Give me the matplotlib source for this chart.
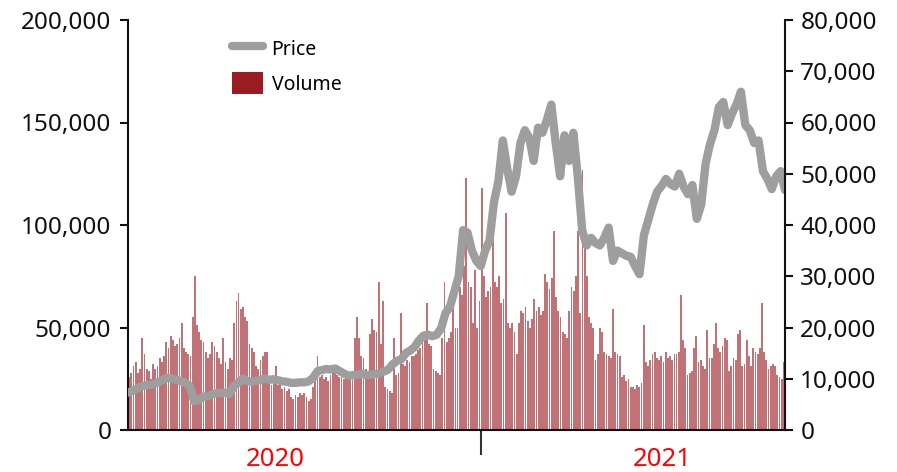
import numpy as np
import matplotlib
matplotlib.use("Agg")
from matplotlib import pyplot as plt
from matplotlib.ticker import FuncFormatter
from matplotlib.lines import Line2D
from matplotlib.patches import Patch

plt.rcParams['font.family'] = ['Noto Sans', 'DejaVu Sans']

# volume (thousands), ~2.4 days per bar, Jan 2020 -> Dec 2021
volume = [
    26, 28, 31, 33, 28, 30, 45, 37, 30, 29,
    25, 32, 30, 31, 35, 33, 36, 43, 40, 46,
    44, 41, 42, 45, 52, 40, 38, 37, 36, 55,
    75, 51, 48, 44, 43, 38, 35, 37, 43, 41,
    38, 35, 32, 45, 33, 30, 35, 34, 52, 63,
    67, 59, 60, 55, 53, 42, 40, 38, 31, 30,
    34, 36, 38, 38, 24, 22, 23, 31, 22, 24,
    20, 21, 19, 20, 16, 15, 17, 16, 18, 17,
    18, 16, 14, 15, 21, 28, 36, 26, 27, 25,
    26, 24, 27, 28, 29, 27, 26, 28, 25, 27,
    26, 25, 28, 45, 55, 45, 36, 35, 30, 28,
    47, 54, 49, 48, 72, 42, 63, 21, 20, 19,
    18, 45, 27, 28, 57, 32, 31, 34, 33, 36,
    36, 37, 39, 40, 43, 44, 62, 42, 41, 30,
    29, 28, 27, 45, 72, 43, 45, 48, 64, 50,
    50, 70, 66, 80, 123, 72, 70, 52, 78, 50,
    63, 118, 75, 65, 68, 70, 93, 72, 70, 75,
    62, 64, 106, 52, 50, 52, 48, 37, 52, 58,
    57, 60, 53, 50, 54, 64, 58, 60, 56, 58,
    76, 72, 69, 74, 97, 65, 58, 55, 48, 47,
    45, 58, 70, 68, 75, 97, 57, 127, 94, 75,
    55, 52, 50, 34, 37, 50, 48, 38, 37, 36,
    35, 59, 38, 37, 36, 26, 27, 24, 25, 21,
    21, 20, 22, 21, 23, 51, 33, 31, 34, 37,
    38, 35, 34, 36, 33, 38, 35, 36, 34, 37,
    37, 38, 66, 44, 40, 27, 28, 29, 40, 46,
    33, 34, 31, 30, 49, 35, 35, 42, 52, 40,
    38, 41, 45, 44, 29, 31, 35, 34, 47, 49,
    31, 32, 44, 36, 31, 40, 38, 37, 40, 62,
    38, 34, 30, 31, 32, 31, 27, 26, 25, 33,
]

# price (thousands), ~4.9 days per point
price = [
    7.3, 7.6, 8.1, 8.5, 8.7, 8.8, 9.0, 9.4, 9.8, 10.2,
    10.0, 9.8, 9.5, 9.2, 8.6, 5.6, 5.8, 6.5, 6.6, 6.9,
    7.2, 7.2, 7.3, 7.0, 8.6, 9.2, 10.0, 9.6, 9.4, 9.6,
    9.7, 10.1, 9.8, 9.9, 9.7, 9.5, 9.4, 9.2, 9.2, 9.3,
    9.3, 9.5, 10.2, 11.5, 11.7, 11.9, 11.8, 12.0, 11.5, 11.0,
    10.6, 10.7, 10.8, 11.0, 10.7, 10.8, 10.9, 11.1, 11.4, 11.8,
    12.8, 13.5, 13.8, 15.0, 15.5, 16.2, 17.5, 18.4, 18.6, 18.3,
    18.6, 19.8, 22.8, 24.0, 27.0, 30.0, 39.0, 38.5, 35.0, 33.0,
    32.0, 35.0, 37.0, 44.5, 48.5, 56.5, 51.0, 46.5, 49.5, 56.0,
    58.5, 57.0, 52.5, 59.0, 58.0, 60.5, 63.5, 56.0, 49.5, 57.5,
    52.5, 58.0, 49.5, 39.0, 36.0, 37.5, 36.5, 36.0, 37.5, 39.5,
    33.0, 35.0, 34.5, 34.0, 33.8, 32.0, 30.4, 38.0, 41.0, 44.0,
    46.5, 47.6, 49.0, 48.0, 47.5, 50.0, 47.5, 46.0, 47.8, 41.2,
    44.0, 52.0, 55.8, 58.5, 63.0, 64.0, 59.5, 61.8, 63.5, 66.0,
    59.5, 58.5, 56.0, 56.5, 50.5, 49.0, 47.0, 49.5, 50.5, 46.8,
]

years = ["2020", "2021"]
n_bars_2020 = 161

bar_color = "#9B1B22"
line_color = "#9E9E9E"

fig = plt.figure(figsize=(8.97, 4.72), dpi=100)
ax = fig.add_axes([128 / 897, 42 / 472, 657 / 897, 410 / 472])

x_bar = np.arange(len(volume))
ax.bar(x_bar, np.array(volume) * 1000, width=0.82, color=bar_color, alpha=0.62, linewidth=0)
ax.set_xlim(-0.5, len(volume) - 0.5)
ax.set_ylim(0, 200000)
ax.set_yticks(np.arange(0, 200001, 50000))

ax2 = ax.twinx()
x_price = np.linspace(-0.5, len(volume) - 0.5, len(price))
ax2.plot(x_price, np.array(price) * 1000, color=line_color, lw=6,
         solid_joinstyle='round', solid_capstyle='round')
ax2.set_ylim(0, 80000)
ax2.set_yticks(np.arange(0, 80001, 10000))

fmt = FuncFormatter(lambda v, _: f"{v:,.0f}")
for a in (ax, ax2):
    a.yaxis.set_major_formatter(fmt)
    a.spines['top'].set_visible(False)
    for s in a.spines.values():
        s.set_linewidth(1.5)
        s.set_color("#111111")
ax.spines['right'].set_visible(False)
ax2.spines['left'].set_visible(False)
ax2.spines['bottom'].set_visible(False)

ax.tick_params(axis='y', length=6, width=1.5, pad=6, labelsize=17.5, colors="#111111")
ax2.tick_params(axis='y', length=6, width=1.5, pad=5, labelsize=17.5, colors="#111111")
ax.set_xticks([n_bars_2020 - 0.5])
ax.set_xticklabels([])
ax.tick_params(axis='x', length=18, width=1.5, color="#333333")

ax.text(0.224, -0.073, years[0], transform=ax.transAxes, ha='center', va='center',
        color='#FF0000', fontsize=18.5)
ax.text(0.813, -0.073, years[1], transform=ax.transAxes, ha='center', va='center',
        color='#FF0000', fontsize=18.5)

handles = [Line2D([0], [0], color=line_color, lw=6, solid_capstyle='round'),
           Patch(facecolor=bar_color)]
leg = ax2.legend(handles, ["Price", "Volume"], loc='upper left',
                 bbox_to_anchor=(222 / 897, 1 - 28 / 472), bbox_transform=fig.transFigure,
                 frameon=False, fontsize=14, handlelength=1.6, handleheight=1.35,
                 handletextpad=0.45, labelspacing=0.62, borderpad=0)

fig.savefig("out.png", dpi=100)
